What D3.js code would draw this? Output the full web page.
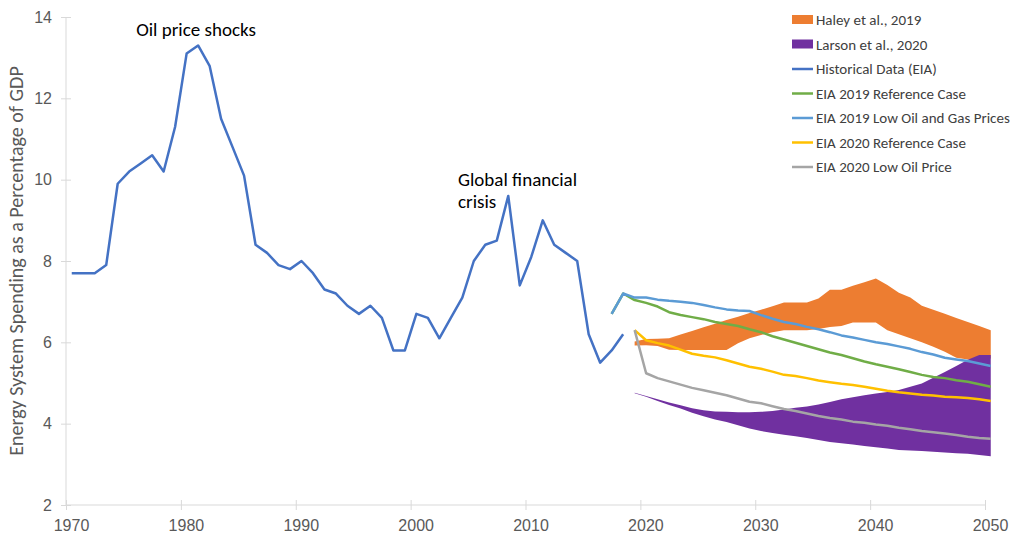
<!DOCTYPE html>
<html>
<head>
<meta charset="utf-8">
<script src="https://cdn.jsdelivr.net/npm/d3@7"></script>
<style>
  body { margin: 0; background: #fff; }
  svg { display: block; font-family: Carlito, Calibri, "Liberation Sans Narrow", "DejaVu Sans Condensed", "Open Sans", sans-serif; }
  .axis path, .axis line { stroke: #d9d9d9; }
  .axis text { fill: #595959; font-size: 16px; }
</style>
</head>
<body>
<div id="chart"></div>
<script>
// Size
const W = 1012, H = 535;
const PLOT = { LEFT: 66, RIGHT: 985, TOP: 17, BOTTOM: 505 };
// points are plotted mid-year on the date axis
const X_OFFSET = 0.5;

// Data
const xTicks = [1970, 1980, 1990, 2000, 2010, 2020, 2030, 2040, 2050];
const yTicks = [2, 4, 6, 8, 10, 12, 14];

const histStart = 1970;
const historical = [7.7, 7.7, 7.7, 7.9, 9.9, 10.2, 10.4, 10.6, 10.2, 11.3,
  13.1, 13.3, 12.8, 11.5, 10.8, 10.1, 8.4, 8.2, 7.9, 7.8,
  8.0, 7.7, 7.3, 7.2, 6.9, 6.7, 6.9, 6.6, 5.8, 5.8,
  6.7, 6.6, 6.1, 6.6, 7.1, 8.0, 8.4, 8.5, 9.6, 7.4,
  8.1, 9.0, 8.4, 8.2, 8.0, 6.2, 5.5, 5.8, 6.2];

const eia2019Start = 2017;
const eia2019Ref = [6.7, 7.2, 7.04, 6.97, 6.88, 6.74, 6.67, 6.62, 6.57, 6.5, 6.45, 6.4, 6.32, 6.25, 6.15, 6.07, 5.99,
  5.91, 5.83, 5.75, 5.69, 5.61, 5.53, 5.46, 5.4, 5.34, 5.27, 5.2, 5.15, 5.12, 5.07, 5.03, 4.97, 4.91];
const eia2019Low = [6.7, 7.2, 7.1, 7.1, 7.05, 7.02, 7.0, 6.97, 6.92, 6.86, 6.81, 6.78, 6.77, 6.67, 6.58, 6.5, 6.45,
  6.38, 6.32, 6.25, 6.17, 6.12, 6.06, 6.0, 5.96, 5.9, 5.84, 5.76, 5.7, 5.62, 5.58, 5.54, 5.48, 5.42];

const eia2020Start = 2019;
const eia2020Ref = [6.3, 6.05, 5.98, 5.92, 5.82, 5.72, 5.67, 5.63, 5.56, 5.48, 5.4, 5.35, 5.28, 5.2, 5.17, 5.12,
  5.06, 5.02, 4.98, 4.95, 4.91, 4.86, 4.81, 4.77, 4.74, 4.71, 4.69, 4.66, 4.65, 4.63, 4.6, 4.56];
const eia2020Low = [6.3, 5.24, 5.12, 5.04, 4.96, 4.88, 4.82, 4.76, 4.7, 4.62, 4.54, 4.5, 4.43, 4.36, 4.31, 4.25,
  4.19, 4.14, 4.1, 4.05, 4.02, 3.98, 3.95, 3.9, 3.86, 3.82, 3.79, 3.76, 3.72, 3.68, 3.65, 3.63];

const bandStart = 2019;
const haleyLow = [5.92, 5.93, 5.91, 5.82, 5.81, 5.81, 5.81, 5.81, 5.81, 5.98, 6.1, 6.18, 6.25, 6.3, 6.3, 6.3,
  6.33, 6.38, 6.4, 6.49, 6.49, 6.49, 6.3, 6.2, 6.1, 6.0, 5.89, 5.77, 5.62, 5.58, 5.6, 5.6];
const haleyHigh = [6.02, 6.08, 6.09, 6.1, 6.19, 6.28, 6.37, 6.46, 6.55, 6.63, 6.72, 6.8, 6.89, 6.98, 6.98, 6.98,
  7.08, 7.29, 7.29, 7.39, 7.48, 7.57, 7.41, 7.22, 7.1, 6.9, 6.8, 6.7, 6.6, 6.5, 6.4, 6.3];
const larsonLow = [4.75, 4.66, 4.56, 4.46, 4.37, 4.27, 4.18, 4.1, 4.04, 3.96, 3.88, 3.82, 3.77, 3.73, 3.69, 3.65,
  3.6, 3.55, 3.52, 3.49, 3.45, 3.42, 3.39, 3.35, 3.34, 3.33, 3.31, 3.29, 3.27, 3.26, 3.23, 3.2];
const larsonHigh = [4.76, 4.68, 4.6, 4.52, 4.45, 4.38, 4.33, 4.3, 4.29, 4.28, 4.28, 4.29, 4.31, 4.35, 4.39, 4.42,
  4.47, 4.53, 4.6, 4.65, 4.7, 4.74, 4.78, 4.83, 4.91, 4.99, 5.13, 5.27, 5.42, 5.57, 5.69, 5.69];

const legendItems = [
  { name: 'Haley et al., 2019', color: '#ED7D31', kind: 'area' },
  { name: 'Larson et al., 2020', color: '#7030A0', kind: 'area' },
  { name: 'Historical Data (EIA)', color: '#4472C4', kind: 'line' },
  { name: 'EIA 2019 Reference Case', color: '#70AD47', kind: 'line' },
  { name: 'EIA 2019 Low Oil and Gas Prices', color: '#5B9BD5', kind: 'line' },
  { name: 'EIA 2020 Reference Case', color: '#FFC000', kind: 'line' },
  { name: 'EIA 2020 Low Oil Price', color: '#A5A5A5', kind: 'line' }
];

// Scales
const x = d3.scaleLinear().domain([1970, 2050]).range([PLOT.LEFT, PLOT.RIGHT]);
const y = d3.scaleLinear().domain([2, 14]).range([PLOT.BOTTOM, PLOT.TOP]);

function toPoints(start, values) {
  return values.map((v, i) => ({ year: start + i, value: v }));
}
function toBand(start, lo, hi) {
  return lo.map((v, i) => ({ year: start + i, lo: v, hi: hi[i] }));
}

const svg = d3.select('#chart').append('svg')
  .attr('width', W)
  .attr('height', H);

// Axes
const yAxis = svg.append('g')
  .attr('class', 'axis')
  .attr('transform', `translate(${PLOT.LEFT},0)`)
  .call(d3.axisLeft(y).tickValues(yTicks).tickSize(5).tickPadding(9));
yAxis.selectAll('.tick line').attr('x1', 5);

const xAxis = svg.append('g')
  .attr('class', 'axis')
  .attr('transform', `translate(0,${PLOT.BOTTOM})`)
  .call(d3.axisBottom(x).tickValues(xTicks).tickFormat(d3.format('d')).tickSize(5).tickPadding(10));
xAxis.selectAll('.tick line').attr('y1', -5);
// labels sit a little right of their ticks
xAxis.selectAll('.tick text').attr('x', 5);
xAxis.select('.domain').attr('d', `M${PLOT.LEFT},0H${PLOT.RIGHT}`);
yAxis.select('.domain').attr('d', `M0,${PLOT.TOP}V${PLOT.BOTTOM}`);

// Axis title
svg.append('text')
  .attr('transform', `translate(23,${(PLOT.TOP + PLOT.BOTTOM) / 2}) rotate(-90)`)
  .attr('text-anchor', 'middle')
  .attr('fill', '#595959')
  .style('font-size', '20px')
  .text('Energy System Spending as a Percentage of GDP');

// Bands
const area = d3.area()
  .x(d => x(d.year + X_OFFSET))
  .y0(d => y(d.lo))
  .y1(d => y(d.hi));

svg.append('path')
  .datum(toBand(bandStart, haleyLow, haleyHigh))
  .attr('fill', legendItems[0].color)
  .attr('d', area);

svg.append('path')
  .datum(toBand(bandStart, larsonLow, larsonHigh))
  .attr('fill', legendItems[1].color)
  .attr('d', area);

// Lines
const line = d3.line()
  .x(d => x(d.year + X_OFFSET))
  .y(d => y(d.value));

const series = [
  { points: toPoints(histStart, historical), color: legendItems[2].color },
  { points: toPoints(eia2019Start, eia2019Ref), color: legendItems[3].color },
  { points: toPoints(eia2019Start, eia2019Low), color: legendItems[4].color },
  { points: toPoints(eia2020Start, eia2020Ref), color: legendItems[5].color },
  { points: toPoints(eia2020Start, eia2020Low), color: legendItems[6].color }
];

series.forEach(s => {
  svg.append('path')
    .datum(s.points)
    .attr('fill', 'none')
    .attr('stroke', s.color)
    .attr('stroke-width', 2.5)
    .attr('stroke-linejoin', 'round')
    .attr('d', line);
});

// Annotations
svg.append('text')
  .attr('x', 196)
  .attr('y', 36)
  .attr('text-anchor', 'middle')
  .attr('fill', '#000')
  .style('font-size', '19px')
  .text('Oil price shocks');

const gfc = svg.append('text')
  .attr('x', 458)
  .attr('y', 186)
  .attr('fill', '#000')
  .style('font-size', '19px');
gfc.append('tspan').attr('x', 458).text('Global financial');
gfc.append('tspan').attr('x', 458).attr('dy', 22).text('crisis');

// Legend
const legend = svg.append('g').attr('transform', 'translate(792,20)');
const rows = legend.selectAll('g')
  .data(legendItems)
  .enter()
  .append('g')
  .attr('transform', (d, i) => `translate(0,${i * 24.5})`);

rows.filter(d => d.kind === 'area')
  .append('rect')
  .attr('x', 0).attr('y', -5)
  .attr('width', 21).attr('height', 9)
  .attr('fill', d => d.color);

rows.filter(d => d.kind === 'line')
  .append('line')
  .attr('x1', 0).attr('x2', 21)
  .attr('stroke', d => d.color)
  .attr('stroke-width', 2.5);

rows.append('text')
  .attr('x', 24)
  .attr('dy', '0.35em')
  .attr('fill', '#404040')
  .style('font-size', '15px')
  .text(d => d.name);
</script>
</body>
</html>
